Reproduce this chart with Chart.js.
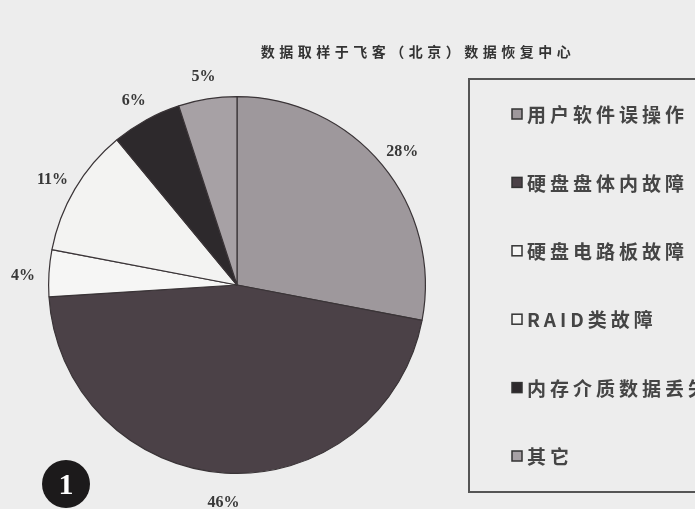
<!DOCTYPE html>
<html>
<head>
<meta charset="utf-8">
<script src="https://cdn.jsdelivr.net/npm/chart.js@4/dist/chart.umd.min.js"></script>
<style>
  html, body { margin: 0; padding: 0; background: #ededed; }
  #wrap { width: 695px; height: 509px; }
</style>
</head>
<body>
<div id="wrap"><canvas id="c" width="695" height="509"></canvas></div>
<script>
// Causes of data loss, in percent
const categories = ['用户软件误操作', '硬盘盘体内故障', '硬盘电路板故障', 'RAID类故障', '内存介质数据丢失', '其它'];
const shares = [28, 46, 4, 11, 6, 5];
const sliceColors = ['#9e989c', '#4b4147', '#f6f6f5', '#f3f3f2', '#2d292c', '#a7a1a5'];
const chartTitle = '数据取样于飞客（北京）数据恢复中心';
const badgeText = '1';

// paper background
const paper = {
  id: 'paper',
  beforeDraw(chart) {
    const ctx = chart.ctx;
    ctx.save();
    ctx.fillStyle = '#ededed';
    ctx.fillRect(0, 0, chart.width, chart.height);
    ctx.restore();
  }
};

// percent labels outside each slice, legend box, title and the figure badge
const decorations = {
  id: 'decorations',
  afterDraw(chart) {
    const ctx = chart.ctx;
    const meta = chart.getDatasetMeta(0);
    const values = chart.data.datasets[0].data;

    ctx.save();
    ctx.fillStyle = '#383838';
    ctx.font = 'bold 16px "Liberation Serif"';
    ctx.textAlign = 'center';
    ctx.textBaseline = 'middle';
    meta.data.forEach((arc, i) => {
      const p = arc.getProps(['x', 'y', 'startAngle', 'endAngle', 'outerRadius'], true);
      const mid = (p.startAngle + p.endAngle) / 2;
      const r = p.outerRadius + 26;
      ctx.fillText(values[i] + '%', p.x + Math.cos(mid) * r, p.y + Math.sin(mid) * r + 4);
    });
    ctx.restore();

    // title
    ctx.save();
    ctx.fillStyle = '#333';
    ctx.font = 'bold 14px "Noto Sans CJK SC"';
    ctx.letterSpacing = '4.5px';
    ctx.textBaseline = 'middle';
    ctx.textAlign = 'left';
    const tw = ctx.measureText(chartTitle).width;
    ctx.fillText(chartTitle, 418 - tw / 2, 52);
    ctx.restore();

    // legend frame
    ctx.save();
    ctx.strokeStyle = '#555';
    ctx.lineWidth = 2;
    ctx.strokeRect(469, 79, 260, 413);
    ctx.restore();

    // legend entries
    ctx.save();
    ctx.font = 'bold 19px "Noto Sans CJK SC"';
    ctx.letterSpacing = '4px';
    ctx.textBaseline = 'middle';
    ctx.textAlign = 'left';
    const top = 114, step = 68.4;
    chart.data.labels.forEach((lab, i) => {
      const y = top + i * step;
      ctx.fillStyle = sliceColors[i];
      ctx.fillRect(512, y - 5, 10, 10);
      ctx.strokeStyle = '#333';
      ctx.lineWidth = 1.5;
      ctx.strokeRect(512, y - 5, 10, 10);
      ctx.fillStyle = '#454545';
      ctx.fillText(lab, 527, y + 1);
    });
    ctx.restore();

    // figure badge
    ctx.save();
    ctx.fillStyle = '#1c1a1b';
    ctx.beginPath();
    ctx.arc(66, 484, 24, 0, Math.PI * 2);
    ctx.fill();
    ctx.fillStyle = '#fff';
    ctx.font = 'bold 30px "Liberation Serif"';
    ctx.textAlign = 'center';
    ctx.textBaseline = 'middle';
    ctx.fillText(badgeText, 66, 486);
    ctx.restore();
  }
};

new Chart(document.getElementById('c'), {
  type: 'pie',
  data: {
    labels: categories,
    datasets: [{
      data: shares,
      backgroundColor: sliceColors,
      borderColor: '#3a3437',
      borderWidth: 1.2
    }]
  },
  options: {
    responsive: false,
    animation: false,
    layout: { padding: { left: 48, right: 269, top: 96, bottom: 35 } },
    plugins: {
      legend: { display: false },
      title: { display: false },
      tooltip: { enabled: false }
    }
  },
  plugins: [paper, decorations]
});
</script>
</body>
</html>
